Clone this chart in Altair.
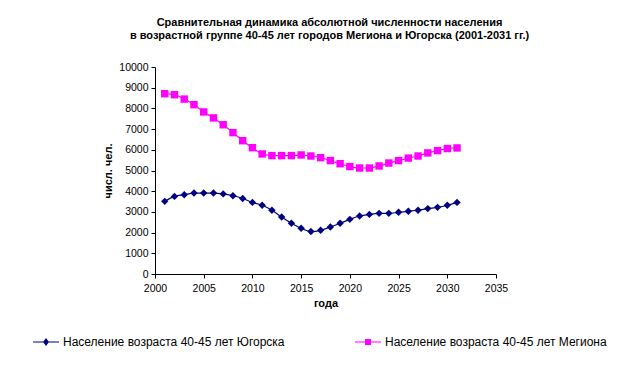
import altair as alt
import pandas as pd

years = list(range(2001, 2032))
yugorsk = [3510, 3750, 3830, 3910, 3910, 3910, 3870, 3780, 3650, 3460,
           3320, 3080, 2750, 2450, 2210, 2050, 2110, 2270, 2450, 2640,
           2800, 2880, 2930, 2930, 2980, 3030, 3080, 3160, 3220, 3320, 3460]
megion = [8710, 8660, 8450, 8180, 7830, 7540, 7210, 6830, 6440, 6100,
          5800, 5720, 5720, 5720, 5750, 5700, 5620, 5480, 5330, 5190,
          5120, 5120, 5220, 5360, 5480, 5600, 5700, 5850, 5960, 6060, 6090]

s_yug = "Население возраста 40-45 лет Югорска"
s_meg = "Население возраста 40-45 лет Мегиона"
series_names = [s_yug, s_meg]
colors = ["#000080", "#FF00FF"]
x_ticks = list(range(2000, 2036, 5))
y_ticks = list(range(0, 10001, 1000))

df = pd.concat([
    pd.DataFrame({"year": years, "value": yugorsk, "series": s_yug}),
    pd.DataFrame({"year": years, "value": megion, "series": s_meg}),
])

FONT = "Liberation Sans"

x_enc = alt.X("year:Q", scale=alt.Scale(domain=[2000, 2035], nice=False),
              axis=alt.Axis(values=x_ticks, format="d", title="года",
                            tickSize=4, labelPadding=5, titlePadding=4,
                            labelFontSize=10.5, titleFontSize=11,
                            titleFontWeight="bold", labelFlush=False,
                            labelOverlap=False, grid=False))
y_enc = alt.Y("value:Q", scale=alt.Scale(domain=[0, 10000], nice=False),
              axis=alt.Axis(values=y_ticks, format="d", title="числ. чел.",
                            tickSize=4, labelPadding=3, titlePadding=5,
                            labelFontSize=10.5, titleFontSize=11,
                            titleFontWeight="bold", labelFlush=False,
                            labelOverlap=False, grid=False))

color_plot = alt.Color("series:N", scale=alt.Scale(domain=series_names, range=colors), legend=None)

base = alt.Chart(df).encode(x=x_enc, y=y_enc)

lines = base.mark_line(interpolate="monotone", strokeWidth=1.2).encode(color=color_plot)

points = base.mark_point(filled=True, opacity=1, size=55).encode(
    color=color_plot,
    shape=alt.Shape("series:N", scale=alt.Scale(domain=series_names, range=["diamond", "square"]), legend=None))

sym_yug = "M-1,-0.04L1,-0.04L1,0.04L-1,0.04Z M0,-0.3L0.23,0L0,0.3L-0.23,0Z"
sym_meg = "M-1,-0.04L1,-0.04L1,0.04L-1,0.04Z M-0.23,-0.23L0.23,-0.23L0.23,0.23L-0.23,0.23Z"

leg = alt.Legend(title=None, orient="none", legendX=-122, legendY=262,
                 direction="horizontal", columns=2, columnPadding=70,
                 labelFontSize=12, labelFont=FONT, labelOffset=4,
                 symbolSize=676, symbolStrokeWidth=0, symbolOpacity=1,
                 padding=0, labelLimit=400)

legend_layer = base.transform_filter("datum.year < 0").mark_point(filled=True, size=676, opacity=1).encode(
    color=alt.Color("series:N", scale=alt.Scale(domain=series_names, range=colors), legend=leg),
    shape=alt.Shape("series:N", scale=alt.Scale(domain=series_names, range=[sym_yug, sym_meg]), legend=leg))

chart = alt.layer(lines, points, legend_layer).resolve_scale(
    color="independent", shape="independent"
).properties(
    width=341, height=207,
    background="white",
    title=alt.TitleParams(
        text=["Сравнительная динамика абсолютной численности населения",
              "в возрастной группе 40-45 лет городов Мегиона и Югорска (2001-2031 гг.)"],
        fontSize=11, fontWeight="bold", font=FONT, anchor="middle",
        offset=21, dx=4, lineHeight=13.5, color="black"),
    autosize=alt.AutoSizeParams(type="none"),
    padding={"left": 147, "top": 59, "right": 118, "bottom": 84},
).configure_view(stroke=None).configure_axis(
    labelFont=FONT, titleFont=FONT, domainColor="black", tickColor="black",
    labelColor="black", titleColor="black", grid=False
)

chart.save("out.html", embed_options={"renderer": "svg", "actions": False})
